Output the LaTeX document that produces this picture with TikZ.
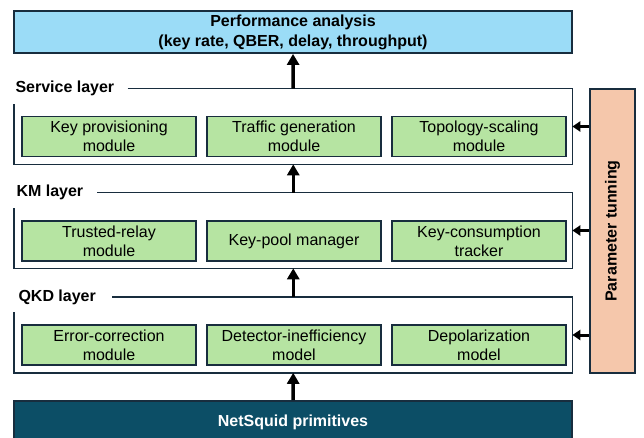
\documentclass[tikz,border=0pt]{standalone}
\usepackage{fontspec}
\setmainfont{Liberation Sans}
\usepackage{tikz}
\usetikzlibrary{arrows.meta}

\definecolor{navy}{RGB}{24,45,62}
\definecolor{perfblue}{RGB}{155,220,247}
\definecolor{modgreen}{RGB}{182,228,162}
\definecolor{tunepeach}{RGB}{245,199,171}
\definecolor{squidteal}{RGB}{12,78,102}

\begin{document}
\begin{tikzpicture}[x=1pt,y=-1pt,>={Triangle[width=12pt,length=11pt]},node distance=185pt,
                    semithick]
\tikzstyle{module}=[draw=navy,line width=1.8pt,fill=modgreen,minimum width=174pt,minimum height=40pt,inner sep=0pt,align=center,font=\fontsize{16}{19}\selectfont]
\tikzstyle{layer}=[draw=none,minimum width=557.5pt,minimum height=75pt,inner sep=0pt]
\tikzstyle{layerlabel}=[anchor=west,fill=white,inner sep=0pt,font=\bfseries\fontsize{16}{19}\selectfont]
\tikzstyle{frame}=[draw=navy,line width=1.5pt]
\tikzstyle{flow}=[->,line width=3.5pt]
\tikzstyle{tune}=[->,line width=3pt,>={Triangle[width=10pt,length=8pt]}]
\tikzset{font=\fontsize{16}{19}\selectfont}

        \useasboundingbox (0,0) rectangle (644,438);

        \node[draw=navy,line width=1.8pt,fill=perfblue,minimum width=558pt,minimum height=42pt,inner sep=0pt,align=center,font=\bfseries\fontsize{16}{20}\selectfont]     (perf)   at (293,32)      {Performance analysis\\(key rate, QBER, delay, throughput)};

        % service layer
        \node[layer]                 (svc)    at (293.25,126.5)  {};
        \node[module]                (tg)     at (294,136.5)     {Traffic generation\\module};
        \node[module]                (kp)     [left of=tg]       {Key provisioning\\module};
        \node[module]                (ts)     [right of=tg]      {Topology-scaling\\module};
        \node[layerlabel]            (svclbl) at ([xshift=1pt]svc.north west) {Service layer};

        % KM layer
        \node[layer]                 (km)     at (293.25,230.5)  {};
        \node[module]                (kpm)    at (294,241)       {Key-pool manager};
        \node[module]                (tr)     [left of=kpm]      {Trusted-relay\\module};
        \node[module]                (kc)     [right of=kpm]     {Key-consumption\\tracker};
        \node[layerlabel]            (kmlbl)  at ([xshift=2pt]km.north west) {KM layer};

        % QKD layer
        \node[layer]                 (qkd)    at (293.25,335)    {};
        \node[module]                (di)     at (294,345)       {Detector-inefficiency\\model};
        \node[module]                (ec)     [left of=di]       {Error-correction\\module};
        \node[module]                (dp)     [right of=di]      {Depolarization\\model};
        \node[layerlabel]            (qkdlbl) at ([xshift=4pt]qkd.north west) {QKD layer};

        \node[draw=navy,line width=1.8pt,fill=squidteal,text=white,minimum width=558pt,minimum height=42pt,inner sep=0pt,font=\bfseries\fontsize{16}{19}\selectfont]     (squid)  at (293,422)     {NetSquid primitives};

        \node[draw=navy,line width=1.8pt,fill=tunepeach,minimum width=45pt,minimum height=284pt,inner sep=0pt]     (param)  at (612.5,231)   {};
        \node[rotate=90,font=\bfseries\fontsize{16}{19}\selectfont]     (paramtxt) at (param.center) {Parameter tunning};

        % open frames round the layers
        \draw[frame] ([xshift=13pt]svclbl.east) -| (svc.south east) -| ([yshift=-15pt]svc.north west);
        \draw[frame] ([xshift=14pt]kmlbl.east)  -| (km.south east)  -| ([yshift=-15pt]km.north west);
        \draw[frame] ([xshift=16pt]qkdlbl.east) -| (qkd.south east) -| ([yshift=-15pt]qkd.north west);

        \path
        (svc.north)   edge[flow]       (perf.south)
        (km.north)    edge[flow]       (svc.south)
        (qkd.north)   edge[flow]       (km.south)
        (squid.north) edge[flow]       (qkd.south)
        (param.west |- svc.east) edge[tune] (svc.east)
        (param.west |- km.east)  edge[tune] (km.east)
        (param.west |- qkd.east) edge[tune] (qkd.east)
        ; %end path

\end{tikzpicture}
\end{document}
